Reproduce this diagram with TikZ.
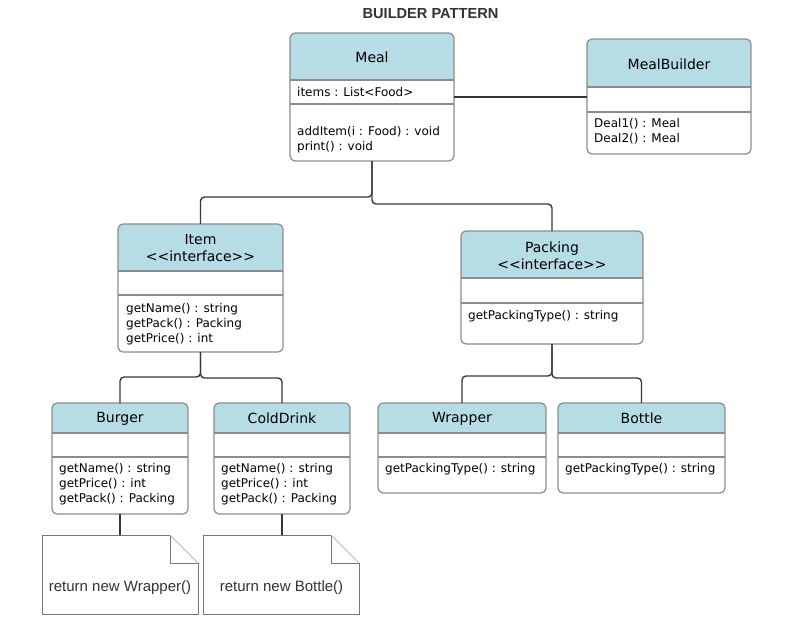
\documentclass[tikz,border=0pt]{standalone}
\usepackage{fontspec}
\setmainfont{DejaVu Sans}
\newfontfamily\arialfont{Liberation Sans}
\usetikzlibrary{positioning,calc}

\definecolor{hdrblue}{RGB}{182,220,230}
\definecolor{boxgray}{RGB}{140,140,140}
\definecolor{linegray}{RGB}{55,55,55}
\definecolor{txtgray}{RGB}{51,51,51}

% class box: name, left, top, right, bottom, header bottom, attribute bottom
\newcommand{\umlclass}[7]{%
  \node[classbox, minimum width={#4-#2}, minimum height={#5-#3}] (#1) at ({(#2+#4)/2},{(#3+#5)/2}) {};
  \begin{scope}
    \clip[rounded corners=5pt] (#2,#3) rectangle (#4,#5);
    \fill[hdrblue] (#2,#3) rectangle (#4,#6);
  \end{scope}
  \draw[sepline] (#2,#6) -- (#4,#6);
  \draw[sepline] (#2,#7) -- (#4,#7);
  \draw[boxline] (#2,#3) rectangle (#4,#5);
}

% note with folded corner: name, left, top, right, bottom
\newcommand{\umlnote}[5]{%
  \node[classbox, minimum width={#4-#2}, minimum height={#5-#3}] (#1) at ({(#2+#4)/2},{(#3+#5)/2}) {};
  \draw[noteline] (#2,#3) -- ({#4-28},#3) -- ({#4-28},{#3+28}) -- (#4,{#3+28}) -- (#4,#5) -- (#2,#5) -- cycle;
  \draw[foldline] ({#4-28},#3) -- (#4,{#3+28});
}

\begin{document}
\begin{tikzpicture}[x=1pt,y=-1pt,
  classbox/.style={draw=none, inner sep=0pt, outer sep=0pt},
  boxline/.style={draw=boxgray, line width=1.2pt, rounded corners=5pt},
  sepline/.style={draw=boxgray, line width=1.2pt},
  noteline/.style={draw=boxgray!85!black, line width=1pt},
  foldline/.style={draw=boxgray!60, line width=1pt},
  conn/.style={draw=linegray, line width=1.4pt, rounded corners=4pt},
  ctitle/.style={font=\fontsize{14}{17}\selectfont, align=center, inner sep=0pt},
  members/.style={font=\fontsize{12}{15}\selectfont, anchor=west, align=left, inner sep=0pt},
  notetext/.style={font=\arialfont\fontsize{15}{17}\selectfont, text=txtgray, inner sep=0pt}]
\useasboundingbox (0,0) rectangle (790,637);

\node[font=\arialfont\bfseries\fontsize{14.6}{16}\selectfont, text=txtgray] (heading) at (430.5,14) {BUILDER PATTERN};

\umlclass{meal}{290}{33}{454}{161}{80}{104}
\node[ctitle] (mealT) at (372,57) {Meal};
\node[members] (mealA) at (297,92) {items : List<Food>};
\node[members] (mealM) at (297,139.5) {addItem(i : Food) : void\\print() : void};

\umlclass{builder}{587}{39}{751}{154}{87}{112}
\node[ctitle] (builderT) at (669,64) {MealBuilder};
\node[members] (builderM) at (594,131.5) {Deal1() : Meal\\Deal2() : Meal};

\umlclass{item}{118}{224}{283}{352}{271}{295}
\node[ctitle] (itemT) at (200.5,248) {Item\\<\kern0pt<interface>\kern0pt>};
\node[members] (itemM) at (126,324) {getName() : string\\getPack() : Packing\\getPrice() : int};

\umlclass{packing}{461}{231}{643}{344}{278}{303}
\node[ctitle] (packingT) at (552,255.5) {Packing\\<\kern0pt<interface>\kern0pt>};
\node[members] (packingM) at (468,316) {getPackingType() : string};

\umlclass{burger}{52}{403}{188}{514}{433}{457}
\node[ctitle] (burgerT) at (120,418.5) {Burger};
\node[members] (burgerM) at (59,484) {getName() : string\\getPrice() : int\\getPack() : Packing};

\umlclass{colddrink}{214}{403}{350}{514}{433}{457}
\node[ctitle] (colddrinkT) at (282,418.5) {ColdDrink};
\node[members] (colddrinkM) at (221,484) {getName() : string\\getPrice() : int\\getPack() : Packing};

\umlclass{wrapper}{378}{403}{546}{493}{433}{457}
\node[ctitle] (wrapperT) at (462,418.5) {Wrapper};
\node[members] (wrapperM) at (385,469) {getPackingType() : string};

\umlclass{bottle}{558}{403}{725}{493}{433}{457}
\node[ctitle] (bottleT) at (641.5,418.5) {Bottle};
\node[members] (bottleM) at (565,469) {getPackingType() : string};

\umlnote{wnote}{42}{535}{198}{614}
\node[notetext] (wnoteT) at (120,588) {return new Wrapper()};
\umlnote{bnote}{203}{535}{359}{614}
\node[notetext] (bnoteT) at (281.5,588) {return new Bottle()};

% connectors
\draw[conn] (meal.east) -- (meal.east -| builder.west);
\draw[conn] (meal.south) -- ++(0,36) -| (item.north);
\draw[conn] (meal.south) -- ++(0,43) -| (packing.north);
\draw[conn] (item.south) -- ++(0,25) -| (burger.north);
\draw[conn] (item.south) -- ++(0,26) -| (colddrink.north);
\draw[conn] (packing.south) -- ++(0,32) -| (wrapper.north);
\draw[conn] (packing.south) -- ++(0,34) -| (bottle.north);
\draw[conn] (burger.south) -- (wnote.north);
\draw[conn] (colddrink.south) -- (colddrink.south |- bnote.north);
\end{tikzpicture}
\end{document}
